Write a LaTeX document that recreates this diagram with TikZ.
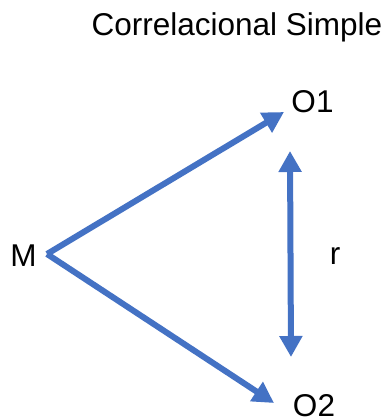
\documentclass[tikz,border=0pt]{standalone}
\usepackage{fontspec}
\setmainfont{Liberation Sans}
\usetikzlibrary{arrows.meta}
\definecolor{arrowblue}{HTML}{4472C4}
\tikzset{lbl/.style={anchor=base,inner sep=0pt},
  blue arrow/.style={-{Triangle[length=21pt,width=22pt]},arrowblue,line width=6pt}}
\begin{document}
\begin{tikzpicture}[x=1pt,y=-1pt,font=\fontsize{31.5}{36}\selectfont]
\useasboundingbox (0,0) rectangle (388,420);
\node[lbl] (title) at (237,36) {Correlacional Simple};
\node[lbl] (M) at (23.5,266) {M};
\node[lbl] (O1) at (312.5,112) {O1};
\node[lbl] (O2) at (314,416) {O2};
\node[lbl] (r) at (335,264) {r};
\coordinate (vertex) at (47,254);
\coordinate (o1tip) at (284,112);
\coordinate (o2tip) at (274,403);
\coordinate (rtop) at (290,151);
\coordinate (rbot) at (291,357);
\draw[blue arrow,line join=miter] (vertex) -- (o1tip);
\draw[blue arrow] (vertex) -- (o2tip);
\draw[blue arrow,{Triangle[length=21pt,width=22pt]}-{Triangle[length=21pt,width=22pt]}] (rtop) -- (rbot);
\end{tikzpicture}
\end{document}
